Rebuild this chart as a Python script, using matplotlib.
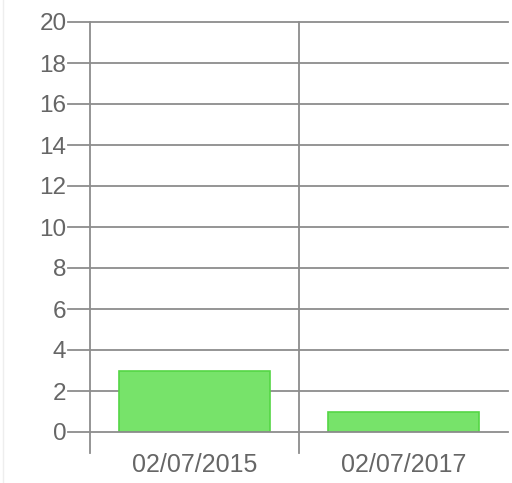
import matplotlib
matplotlib.use("Agg")
import matplotlib.pyplot as plt
from matplotlib.lines import Line2D

categories = ["02/07/2015", "02/07/2017"]
values = [3, 1]
yticks = list(range(0, 21, 2))

plt.rcParams['font.family'] = ['Liberation Sans', 'DejaVu Sans']

fig = plt.figure(figsize=(5.12, 4.83), dpi=100)
ax = fig.add_axes([90/512, 51/483, 418/512, 410/483])

grid_c = '#8c8c8c'
text_c = '#666666'

x = list(range(len(categories)))
ax.bar(x, values, width=0.72, color='#77e36a', edgecolor='#55d645', linewidth=1.2, zorder=1)

ax.set_xlim(-0.5, len(categories) - 0.5)
ax.set_ylim(0, 20)

for s in ax.spines.values():
    s.set_visible(False)

# horizontal grid lines extended left as ticks
for t in yticks:
    ax.add_line(Line2D([-0.5 - 22/209, len(categories) - 0.5], [t, t], color=grid_c,
                       lw=1.3, clip_on=False, zorder=2 if t == 0 else 0.5))
# vertical category separators extended below
for i in range(len(categories)):
    ax.add_line(Line2D([i - 0.5, i - 0.5], [-21/20.5, 20], color=grid_c, lw=1.3,
                       clip_on=False, zorder=0.5))

ax.set_yticks(yticks)
ax.set_yticklabels([str(t) for t in yticks])
ax.set_xticks(x)
ax.set_xticklabels(categories)
ax.tick_params(axis='y', length=0, pad=17, labelsize=17.5, labelcolor=text_c)
ax.tick_params(axis='x', length=0, pad=15, labelsize=18, labelcolor=text_c)

fig.add_artist(Line2D([3/512, 3/512], [0, 1], color='#eeeeee', lw=1))

fig.savefig("out.png", dpi=100)
